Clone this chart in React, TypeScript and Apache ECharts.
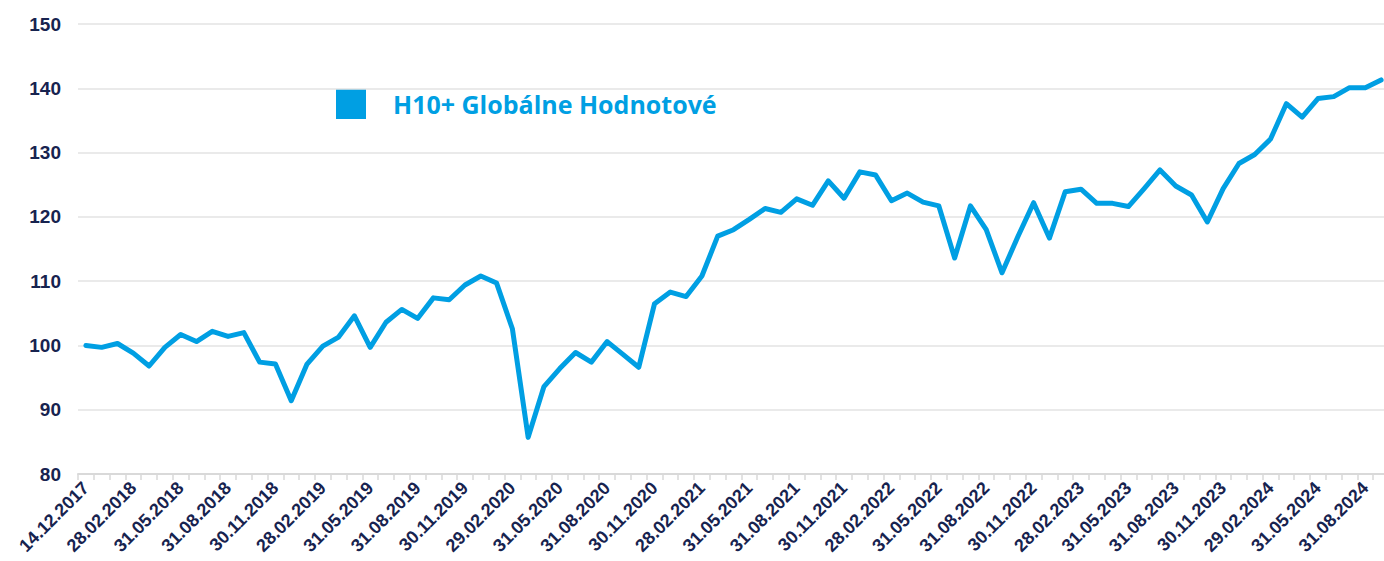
import React, { useEffect, useRef } from "react";
import * as echarts from "echarts";

const dates: string[] = [
  "14.12.2017", "31.12.2017",
  "31.01.2018", "28.02.2018", "31.03.2018", "30.04.2018", "31.05.2018", "30.06.2018",
  "31.07.2018", "31.08.2018", "30.09.2018", "31.10.2018", "30.11.2018", "31.12.2018",
  "31.01.2019", "28.02.2019", "31.03.2019", "30.04.2019", "31.05.2019", "30.06.2019",
  "31.07.2019", "31.08.2019", "30.09.2019", "31.10.2019", "30.11.2019", "31.12.2019",
  "31.01.2020", "29.02.2020", "31.03.2020", "30.04.2020", "31.05.2020", "30.06.2020",
  "31.07.2020", "31.08.2020", "30.09.2020", "31.10.2020", "30.11.2020", "31.12.2020",
  "31.01.2021", "28.02.2021", "31.03.2021", "30.04.2021", "31.05.2021", "30.06.2021",
  "31.07.2021", "31.08.2021", "30.09.2021", "31.10.2021", "30.11.2021", "31.12.2021",
  "31.01.2022", "28.02.2022", "31.03.2022", "30.04.2022", "31.05.2022", "30.06.2022",
  "31.07.2022", "31.08.2022", "30.09.2022", "31.10.2022", "30.11.2022", "31.12.2022",
  "31.01.2023", "28.02.2023", "31.03.2023", "30.04.2023", "31.05.2023", "30.06.2023",
  "31.07.2023", "31.08.2023", "30.09.2023", "31.10.2023", "30.11.2023", "31.12.2023",
  "31.01.2024", "29.02.2024", "31.03.2024", "30.04.2024", "31.05.2024", "30.06.2024",
  "31.07.2024", "31.08.2024", "30.09.2024",
];

const values: number[] = [
  100.0, 99.7, 100.3, 98.8, 96.8, 99.7, 101.7, 100.6, 102.2, 101.4,
  102.0, 97.4, 97.1, 91.4, 97.1, 99.9, 101.3, 104.6, 99.7, 103.6,
  105.6, 104.2, 107.4, 107.1, 109.4, 110.8, 109.7, 102.6, 85.7, 93.6,
  96.4, 98.9, 97.4, 100.6, 98.6, 96.6, 106.5, 108.3, 107.6, 110.8,
  117.0, 118.0, 119.6, 121.3, 120.7, 122.8, 121.8, 125.6, 122.9, 127.0,
  126.5, 122.5, 123.7, 122.3, 121.7, 113.6, 121.7, 118.0, 111.3, 116.9,
  122.2, 116.7, 123.9, 124.3, 122.1, 122.1, 121.6, 124.4, 127.3, 124.8,
  123.4, 119.2, 124.4, 128.3, 129.7, 132.1, 137.6, 135.5, 138.4, 138.7,
  140.1, 140.1, 141.3,
];

const seriesName = "H10+ Globálne Hodnotové";
const yTicks = { min: 80, max: 150, interval: 10 };

const LINE_COLOR = "#009fe3";
const TEXT_COLOR = "#17234f";

export default function App() {
  const ref = useRef<HTMLDivElement>(null);
  useEffect(() => {
    if (!ref.current) return;
    const chart = echarts.init(ref.current, undefined, { renderer: "svg" });
    chart.setOption({
      animation: false,
      backgroundColor: "#ffffff",
      grid: {
        left: 78,
        right: -5,
        top: 24,
        bottom: 87,
        containLabel: false,
        outerBoundsMode: "none",
      },
      xAxis: {
        type: "category",
        data: dates,
        boundaryGap: true,
        axisLine: { show: true, lineStyle: { color: "#d9d9d9", width: 2 } },
        axisTick: { show: true, interval: 0, length: 6, lineStyle: { color: "#d9d9d9", width: 1.5 } },
        axisLabel: {
          interval: 2,
          rotate: 45,
          margin: 11,
          align: "right",
          verticalAlign: "middle",
          color: TEXT_COLOR,
          fontFamily: "Liberation Sans, Arial, sans-serif",
          fontWeight: "bold",
          fontSize: 18,
        },
        splitLine: { show: false },
      },
      yAxis: {
        type: "value",
        min: yTicks.min,
        max: yTicks.max,
        interval: yTicks.interval,
        axisLine: { show: false },
        axisTick: { show: false },
        axisLabel: {
          margin: 17,
          color: TEXT_COLOR,
          fontFamily: "Liberation Sans, Arial, sans-serif",
          fontWeight: "bold",
          fontSize: 19,
        },
        splitLine: { show: true, lineStyle: { color: "#e3e3e3", width: 1.5 } },
      },
      series: [
        {
          name: seriesName,
          type: "line",
          data: values,
          showSymbol: false,
          symbol: "none",
          clip: false,
          lineStyle: { color: LINE_COLOR, width: 5, join: "round", cap: "round" },
          itemStyle: { color: LINE_COLOR },
        },
      ],
      graphic: [
        {
          type: "rect",
          left: 336,
          top: 89,
          shape: { width: 30, height: 30 },
          style: { fill: LINE_COLOR },
        },
        {
          type: "text",
          x: 393,
          y: 104,
          style: {
            text: seriesName,
            fill: LINE_COLOR,
            font: "bold 25px 'Open Sans', sans-serif",
            verticalAlign: "middle",
          },
        },
      ],
    });
    return () => chart.dispose();
  }, []);
  return (
    <div
      ref={ref}
      style={{ position: "fixed", left: 0, top: 0, width: 1384, height: 561 }}
    />
  );
}
